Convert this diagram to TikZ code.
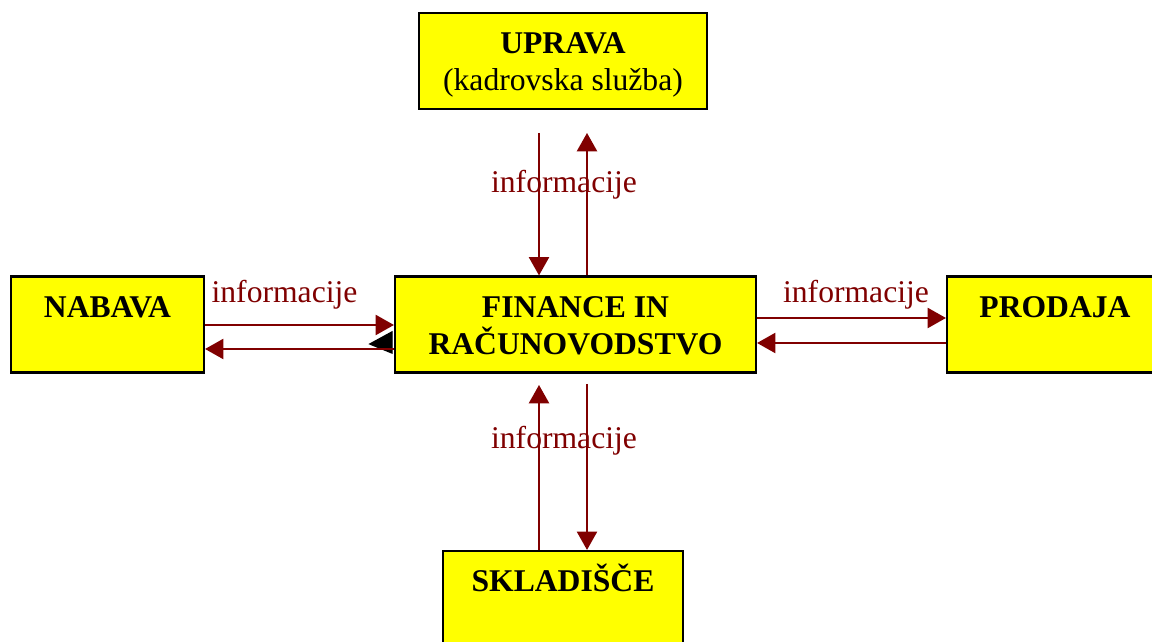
\documentclass[tikz,border=0pt]{standalone}
\usepackage{fontspec}
\setmainfont{Liberation Serif}
\usetikzlibrary{arrows.meta}
\definecolor{infored}{RGB}{128,0,0}
\definecolor{boxyellow}{RGB}{255,255,0}

\tikzset{
    dept/.style={draw=black, line width=0.6pt, fill=boxyellow, inner sep=0pt, align=center,
        font=\fontsize{9}{10.5}\selectfont\bfseries, minimum height=0.96cm,
        text height=8.7pt, text depth=12.7pt},
    twoline/.style={text height=19.2pt, text depth=2.2pt},
    info/.style={infored, inner sep=0pt, font=\fontsize{9}{10.5}\selectfont},
    flow/.style={infored, line width=0.57pt, -{Triangle[length=5.2pt,width=5.7pt]}}
}

\begin{document}
\begin{tikzpicture}[x=1cm,y=-1cm]
            \useasboundingbox (0,0) rectangle (11.52,6.42);
            \clip (0,0) rectangle (11.52,6.42);
            \fill[white] (0,0) rectangle (11.52,6.42);
            \node[dept, twoline, minimum width=2.88cm] (uprava) at (5.63,0.61) {UPRAVA\\\mdseries(kadrovska služba)};
            \node[dept, minimum width=1.93cm] (nabava) at (1.075,3.245) {NABAVA};
            \node[dept, twoline, minimum width=3.61cm] (finance) at (5.755,3.245) {FINANCE IN\\RAČUNOVODSTVO};
            \node[dept, minimum width=2.16cm] (prodaja) at (10.55,3.245) {PRODAJA};
            \node[dept, minimum width=2.40cm] (skladisce) at (5.63,5.99) {SKLADIŠČE};
            \coordinate (up1) at (5.39,1.33);
            \coordinate (up2) at (5.87,1.33);
            \coordinate (dn1) at (5.39,3.85);
            \coordinate (dn2) at (5.87,3.84);
            \draw[flow] (up1) -- (up1 |- finance.north);
            \draw[flow] (up2 |- finance.north) -- (up2);
            \draw[flow] (dn1 |- skladisce.north) -- (dn1);
            \draw[flow] (dn2) -- (dn2 |- skladisce.north);
            \filldraw[black] (3.92,3.32) -- (3.70,3.44) -- (3.92,3.53) -- cycle;
            \draw[flow] ([yshift=-0.005cm]nabava.east) -- ([yshift=-0.005cm]finance.west);
            \draw[flow] ([yshift=-0.245cm]finance.west) -- ([yshift=-0.245cm]nabava.east);
            \draw[flow] ([yshift=0.065cm]finance.east) -- ([yshift=0.065cm]prodaja.west);
            \draw[flow] ([yshift=-0.185cm]prodaja.west) -- ([yshift=-0.185cm]finance.east);
            \node[info] (infoup) at (5.64,1.85) {informacije};
            \node[info] (infoleft) at (2.845,2.95) {informacije};
            \node[info] (inforight) at (8.56,2.95) {informacije};
            \node[info] (infodown) at (5.64,4.41) {informacije};
        \end{tikzpicture}
\end{document}
